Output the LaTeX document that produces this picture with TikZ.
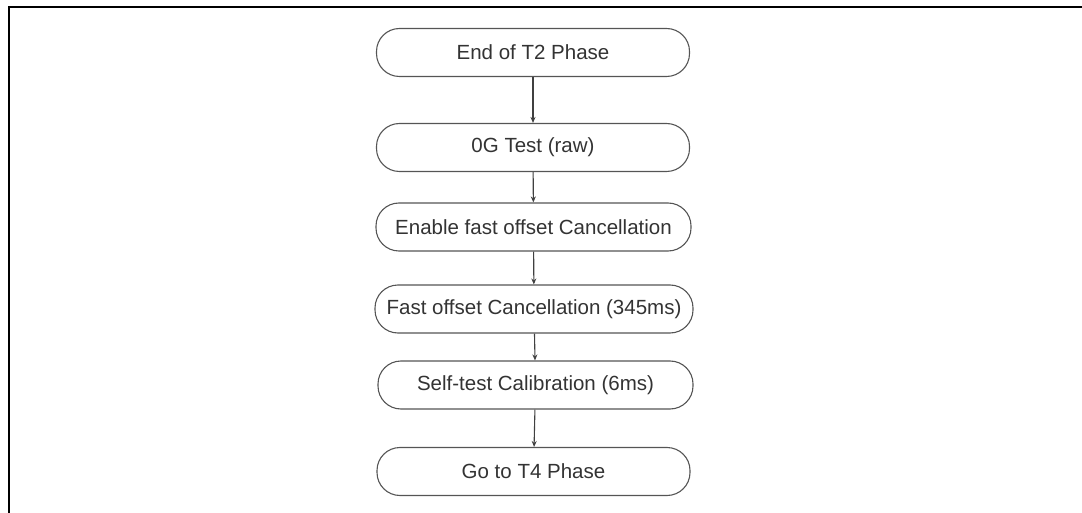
\documentclass[tikz,border=0pt]{standalone}
\usepackage{fontspec}
\setmainfont{Liberation Sans}
\usetikzlibrary{arrows.meta}
\definecolor{boxline}{HTML}{555555}
\definecolor{txt}{HTML}{333333}
\tikzset{
  flowbox/.style={draw=boxline, line width=1.1pt, rounded corners=23pt, minimum width=313pt, minimum height=48pt, inner sep=0pt, text=txt, font=\fontsize{20.5}{24}\selectfont, anchor=center},
  flowarrow/.style={draw=black!75, line width=1.1pt, -{Stealth[length=6pt,width=5pt]}},
  frameline/.style={draw=black, line width=2pt}
}
\begin{document}
\begin{tikzpicture}[x=1pt,y=-1pt]
\useasboundingbox (0,0) rectangle (1082,513);
\clip (0,0) rectangle (1082,513);
\coordinate (fbl) at (8.5,520);
\coordinate (ftl) at (8.5,7);
\coordinate (ftr) at (1090,7);
\draw[frameline] (fbl) -- (ftl) -- (ftr);
\node[flowbox] (n1) at (533,52.5) {End of T2 Phase};
\node[flowbox] (n2) at (533,147.5) {0G Test (raw)};
\node[flowbox, minimum width=315pt] (n3) at (533.5,227) {Enable fast offset Cancellation};
\node[flowbox, minimum width=318pt] (n4) at (534,309) {Fast offset Cancellation (345ms)};
\node[flowbox, minimum width=315pt] (n5) at (535.5,385) {Self-test Calibration (6ms)};
\node[flowbox] (n6) at (533.5,471.5) {Go to T4 Phase};
\draw[flowarrow] (n1) -- (n2);
\draw[flowarrow] (n2) -- (n3);
\draw[flowarrow] (n3) -- (n4);
\draw[flowarrow] (n4) -- (n5);
\draw[flowarrow] (n5) -- (n6);
\end{tikzpicture}
\end{document}
